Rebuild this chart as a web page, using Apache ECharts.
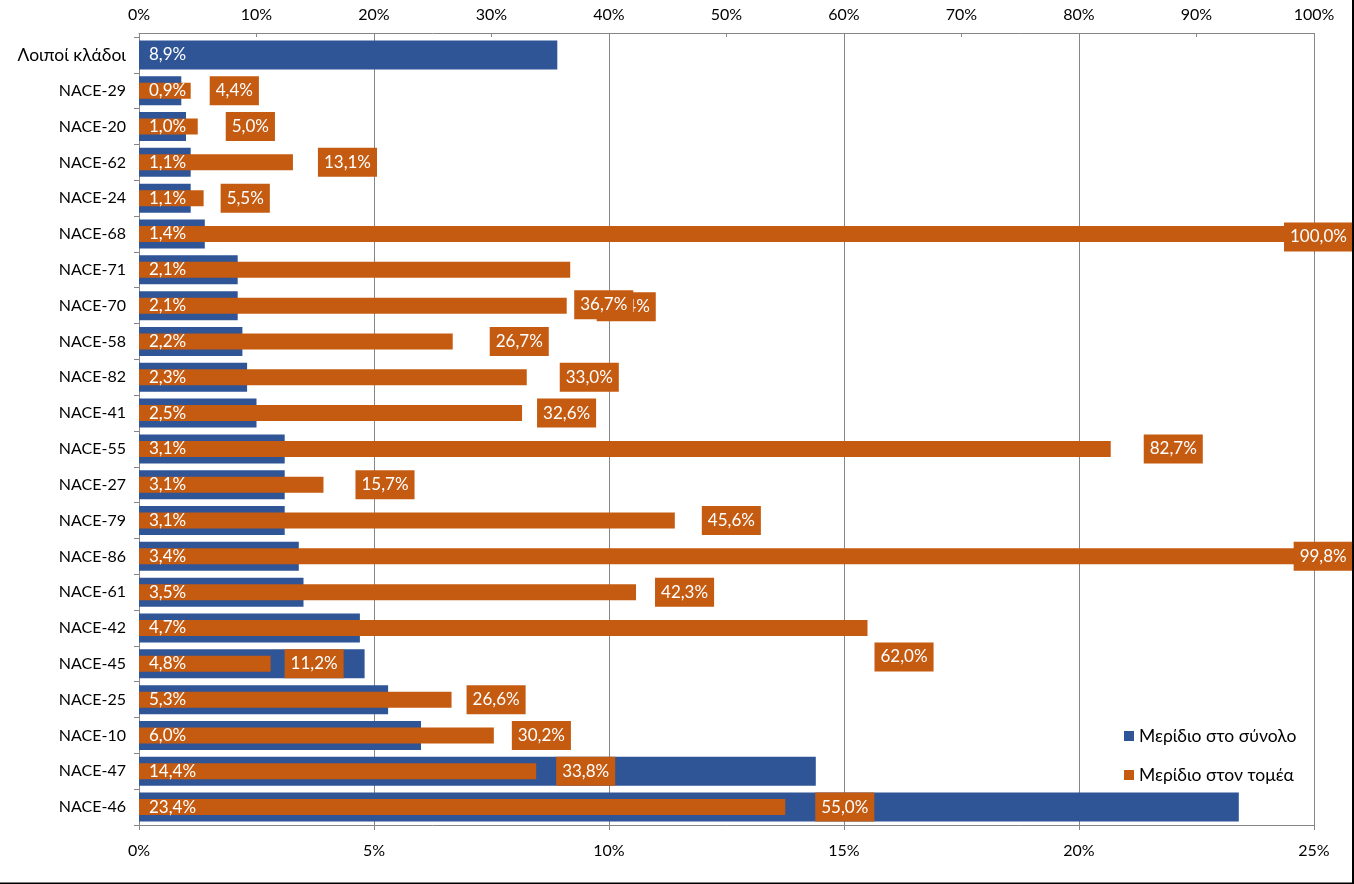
<!DOCTYPE html>
<html>
<head>
<meta charset="utf-8">
<script src="https://cdn.jsdelivr.net/npm/echarts@6/dist/echarts.min.js"></script>
<style>
html,body{margin:0;padding:0;background:#fff;}
#chart{width:1354px;height:884px;}
</style>
</head>
<body>
<div id="chart"></div>
<script>
// Categories listed bottom -> top (as in the source spreadsheet)
const categories = ['NACE-46','NACE-47','NACE-10','NACE-25','NACE-45','NACE-42','NACE-61','NACE-86','NACE-79','NACE-27','NACE-55','NACE-41','NACE-82','NACE-58','NACE-70','NACE-71','NACE-68','NACE-24','NACE-62','NACE-20','NACE-29','Λοιποί κλάδοι'];
// Μερίδιο στο σύνολο (%), bottom axis 0-25%
const shareTotal = [23.4,14.4,6.0,5.3,4.8,4.7,3.5,3.4,3.1,3.1,3.1,2.5,2.3,2.2,2.1,2.1,1.4,1.1,1.1,1.0,0.9,8.9];
// Μερίδιο στον τομέα (%), top axis 0-100%
const shareSector = [55.0,33.8,30.2,26.6,11.2,62.0,42.3,99.8,45.6,15.7,82.7,32.6,33.0,26.7,36.4,36.7,100.0,5.5,13.1,5.0,4.4,null];
const seriesNames = ['Μερίδιο στο σύνολο','Μερίδιο στον τομέα'];
const bottomAxis = {min:0, max:25, interval:5};
const topAxis = {min:0, max:100, interval:10};

// label placement nudges (styling only): [dx, dy] from bar end
const sectorLabelNudge = {
  'NACE-29':[19,0],'NACE-20':[28,0],'NACE-62':[25,0],'NACE-24':[17,0],'NACE-68':[-30,3],
  'NACE-71':[4,35],'NACE-70':[30,1],'NACE-58':[37,0],'NACE-82':[33,0],'NACE-41':[15,0],
  'NACE-55':[33,0],'NACE-27':[32,0],'NACE-79':[27,0],'NACE-86':[-18,0],'NACE-61':[19,0],
  'NACE-42':[7,29],'NACE-45':[14,0],'NACE-25':[15,0],'NACE-10':[18,0],'NACE-47':[20,0],'NACE-46':[30,0]
};

const BLUE = '#2F5597', ORANGE = '#C55A11', GRID = '#868686';
const FONT = 'Lato, "Noto Sans", sans-serif';
const fmt = v => v.toFixed(1).replace('.', ',') + '%';
const isGreek = s => /[\u0370-\u03FF\u1F00-\u1FFF]/.test(s);

const sectorData = shareSector.map((v, i) => {
  if (v == null) return '-';
  const n = sectorLabelNudge[categories[i]] || [20,0];
  return {value: v, label: {offset: n}};
});

const catAxis = (show) => ({
  type: 'category', data: categories, show: show,
  axisLine: {show: show, lineStyle: {color: GRID, width: 1}},
  axisTick: {show: show, length: 5, lineStyle: {color: GRID}},
  axisLabel: {show: show, color: '#000', fontSize: 16, fontFamily: FONT, margin: 13, interval: 0,
    formatter: v => isGreek(v) ? '{g|' + v + '}' : v,
    rich: {g: {fontSize: 17.5, fontFamily: FONT, color: '#000'}}}
});

const chart = echarts.init(document.getElementById('chart'), null, {renderer: 'canvas'});
chart.setOption({
  animation: false,
  backgroundColor: '#fff',
  textStyle: {fontFamily: FONT},
  grid: {left: 139, right: 40, top: 37, bottom: 59, containLabel: false},
  legend: {
    data: seriesNames, orient: 'vertical', left: 1119, top: 722, itemGap: 21,
    icon: 'rect', itemWidth: 10, itemHeight: 10,
    textStyle: {fontSize: 17.5, color: '#000', fontFamily: FONT}
  },
  xAxis: [
    {type: 'value', position: 'bottom', min: bottomAxis.min, max: bottomAxis.max, interval: bottomAxis.interval,
     axisLine: {show: true, lineStyle: {color: GRID}},
     axisTick: {show: true, length: 5, lineStyle: {color: GRID}},
     axisLabel: {color: '#000', fontSize: 16, fontFamily: FONT, margin: 18, formatter: '{value}%'},
     splitLine: {show: true, lineStyle: {color: GRID, width: 1}}},
    {type: 'value', position: 'top', offset: 4, min: topAxis.min, max: topAxis.max, interval: topAxis.interval,
     axisLine: {show: true, lineStyle: {color: GRID}},
     axisTick: {show: true, inside: true, length: 4, lineStyle: {color: GRID}},
     axisLabel: {color: '#000', fontSize: 16, fontFamily: FONT, margin: 10, formatter: '{value}%'},
     splitLine: {show: false}}
  ],
  yAxis: [catAxis(true), catAxis(false), catAxis(false)],
  series: [
    {name: seriesNames[0], type: 'bar', xAxisIndex: 0, yAxisIndex: 0, data: shareTotal,
     barWidth: 29, itemStyle: {color: BLUE}, z: 2, label: {show: false}},
    {name: seriesNames[1], type: 'bar', xAxisIndex: 1, yAxisIndex: 1, data: sectorData,
     barWidth: 16, itemStyle: {color: ORANGE}, z: 3,
     label: {show: true, position: 'right', distance: 0, color: '#fff', fontSize: 17, fontFamily: FONT,
             lineHeight: 19, backgroundColor: ORANGE, padding: [5,6,5,6],
             formatter: p => fmt(p.value)}},
    {name: 'labels-total', type: 'bar', xAxisIndex: 0, yAxisIndex: 2, data: shareTotal,
     barWidth: 29, itemStyle: {color: 'rgba(0,0,0,0)'}, z: 4, silent: true, tooltip: {show: false},
     label: {show: true, position: 'insideLeft', distance: 10, color: '#fff', fontSize: 17, fontFamily: FONT,
             formatter: p => fmt(p.value)}}
  ],
  graphic: [{type: 'rect', silent: true, z: 100,
    shape: {x: -5, y: -5, width: 1358, height: 888.5},
    style: {fill: 'none', stroke: '#000', lineWidth: 2}}]
});
</script>
</body>
</html>
